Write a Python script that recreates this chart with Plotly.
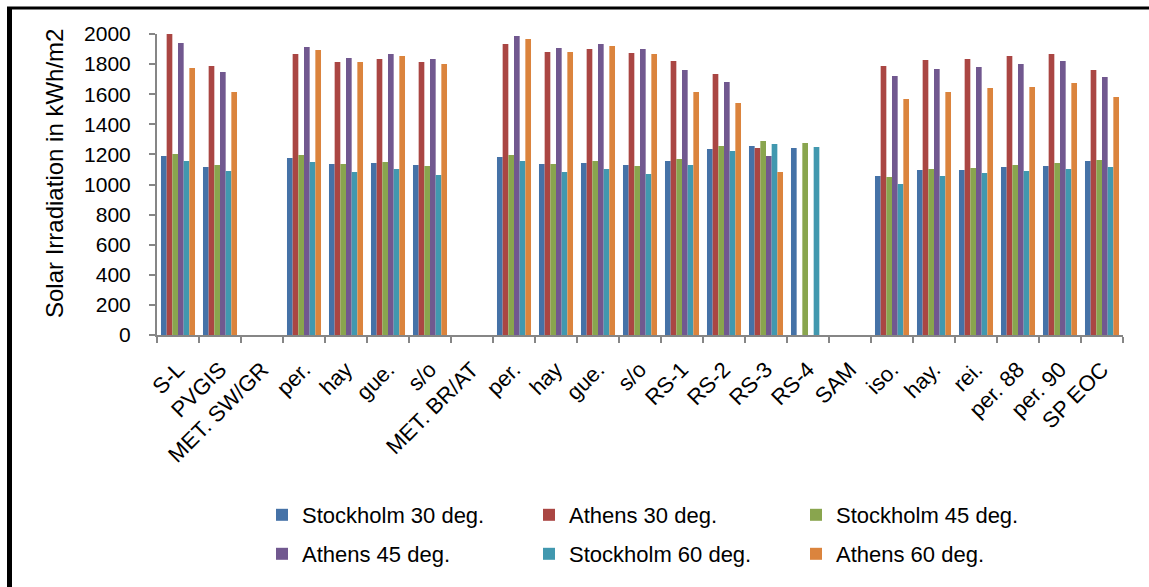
import plotly.graph_objects as go

# Category labels along the x axis (order as plotted)
categories = ["S-L", "PVGIS", "MET. SW/GR", "per.", "hay", "gue.", "s/o",
              "MET. BR/AT", "per.", "hay", "gue.", "s/o", "RS-1", "RS-2",
              "RS-3", "RS-4", "SAM", "iso.", "hay.", "rei.", "per. 88",
              "per. 90", "SP EOC"]

# Annual irradiation per model, kWh/m2 (None = not available)
stockholm_30 = [1190, 1116, None, 1176, 1136, 1143, 1130, None, 1183, 1136, 1143, 1130,
                1156, 1236, 1256, 1243, None, 1056, 1096, 1096, 1116, 1123, 1156]
athens_30 = [2000, 1787, None, 1867, 1814, 1834, 1814, None, 1934, 1880, 1900, 1874,
             1821, 1734, 1243, None, None, 1787, 1827, 1834, 1854, 1867, 1761]
stockholm_45 = [1203, 1130, None, 1196, 1136, 1150, 1123, None, 1196, 1136, 1156, 1123,
                1169, 1256, 1289, 1276, None, 1050, 1103, 1110, 1130, 1143, 1163]
athens_45 = [1940, 1748, None, 1914, 1841, 1867, 1834, None, 1987, 1907, 1934, 1900,
             1761, 1681, 1189, None, None, 1721, 1767, 1781, 1801, 1821, 1714]
stockholm_60 = [1156, 1090, None, 1150, 1083, 1103, 1063, None, 1156, 1083, 1103, 1070,
                1130, 1223, 1269, 1249, None, 1003, 1056, 1076, 1090, 1103, 1116]
athens_60 = [1774, 1615, None, 1894, 1814, 1854, 1801, None, 1967, 1880, 1920, 1867,
             1615, 1542, 1083, None, None, 1568, 1615, 1641, 1648, 1674, 1581]

y_ticks = [0, 200, 400, 600, 800, 1000, 1200, 1400, 1600, 1800, 2000]

series = [
    ("Stockholm 30 deg.", stockholm_30, "#4572A7", "legend"),
    ("Athens 30 deg.", athens_30, "#AA4643", "legend"),
    ("Stockholm 45 deg.", stockholm_45, "#89A54E", "legend"),
    ("Athens 45 deg.", athens_45, "#71588F", "legend2"),
    ("Stockholm 60 deg.", stockholm_60, "#4198AF", "legend2"),
    ("Athens 60 deg.", athens_60, "#DB843D", "legend2"),
]

FONT = "Liberation Sans, Arial, sans-serif"
W, H = 1149, 587
L, R, T, B = 157, 26, 34, 252
PW, PH = W - L - R, H - T - B


def px_x(p):
    return (p - L) / PW


def px_y(p):
    return (H - B - p) / PH


x_pos = list(range(len(categories)))

fig = go.Figure()
for name, vals, color, leg in series:
    fig.add_trace(go.Bar(x=x_pos, y=vals, name=name, marker_color=color,
                         marker_line_width=0, legend=leg))

axis_grey = "#868686"
legend_common = dict(orientation="h", xanchor="left", yanchor="middle",
                     entrywidth=222, entrywidthmode="pixels", itemwidth=30,
                     font=dict(size=22), bgcolor="rgba(0,0,0,0)")
fig.update_layout(
    width=W, height=H,
    margin=dict(l=L, r=R, t=T, b=B, autoexpand=False),
    paper_bgcolor="white", plot_bgcolor="white",
    barmode="group", bargap=0.19, bargroupgap=0,
    font=dict(family=FONT, size=21, color="black"),
    xaxis=dict(
        range=[-0.5, len(categories) - 0.5],
        tickmode="array", tickvals=x_pos, ticktext=categories,
        tickangle=-45, ticks="", showgrid=False, zeroline=False,
        showline=True, linecolor=axis_grey, linewidth=2,
        tickfont=dict(size=22), ticklabelstandoff=11,
        minor=dict(tickmode="linear", tick0=-0.5, dtick=1, ticks="outside",
                   ticklen=6, tickwidth=1.5, tickcolor=axis_grey, showgrid=False),
    ),
    yaxis=dict(
        range=[0, 2000], tickmode="array", tickvals=y_ticks,
        ticks="outside", ticklen=6, tickwidth=1.5, tickcolor=axis_grey,
        showline=True, linecolor=axis_grey, linewidth=2,
        showgrid=False, zeroline=False, tickfont=dict(size=21),
        ticklabelstandoff=14,
    ),
    legend=dict(x=px_x(262), y=px_y(515), **legend_common),
    legend2=dict(x=px_x(262), y=px_y(554), **legend_common),
    annotations=[dict(text="Solar Irradiation in kWh/m2", textangle=-90,
                      xref="paper", yref="paper", x=px_x(54), y=px_y(174),
                      xanchor="center", yanchor="middle", showarrow=False,
                      font=dict(size=24))],
    shapes=[
        dict(type="line", xref="paper", yref="paper",
             x0=px_x(7), x1=px_x(W), y0=px_y(8), y1=px_y(8),
             line=dict(color="black", width=3)),
        dict(type="line", xref="paper", yref="paper",
             x0=px_x(9.5), x1=px_x(9.5), y0=px_y(7), y1=px_y(H),
             line=dict(color="black", width=5)),
    ],
)

fig.write_html("out.html")
